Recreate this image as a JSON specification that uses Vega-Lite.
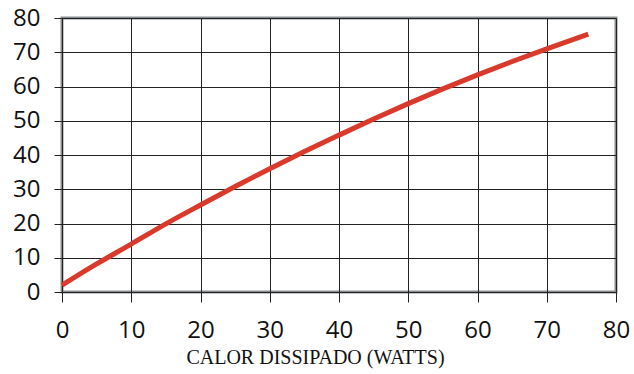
{
  "$schema": "https://vega.github.io/schema/vega-lite/v6.json",
  "width": 554,
  "height": 274,
  "autosize": {"type": "none"},
  "padding": {"left": 62, "top": 18, "right": 18, "bottom": 82},
  "background": "white",
  "data": {"values": [
    {"calor": 0, "valor": 2},
    {"calor": 5, "valor": 8.2},
    {"calor": 10, "valor": 14},
    {"calor": 15, "valor": 19.9},
    {"calor": 20, "valor": 25.4},
    {"calor": 25, "valor": 30.8},
    {"calor": 30, "valor": 36},
    {"calor": 35, "valor": 41},
    {"calor": 40, "valor": 45.8},
    {"calor": 45, "valor": 50.5},
    {"calor": 50, "valor": 55},
    {"calor": 55, "valor": 59.3},
    {"calor": 60, "valor": 63.4},
    {"calor": 65, "valor": 67.3},
    {"calor": 70, "valor": 71},
    {"calor": 76, "valor": 75.3}
  ]},
  "config": {
    "view": {"stroke": "#8a8d90", "strokeWidth": 3},
    "axis": {"domain": false, "grid": true, "gridColor": "#222222", "gridWidth": 1, "tickColor": "#222222", "labelFont": "Open Sans", "labelFontSize": 24, "labelColor": "#111111", "labelOverlap": false, "labelBound": false, "labelFlush": false}
  },
  "mark": {"type": "line", "color": "#d93a2b", "strokeWidth": 5, "interpolate": "monotone"},
  "encoding": {
    "x": {"field": "calor", "type": "quantitative", "scale": {"domain": [0, 80], "nice": false},
      "axis": {"values": [0,10,20,30,40,50,60,70,80], "tickSize": 10, "labelPadding": 16, "title": "CALOR DISSIPADO (WATTS)", "titleFont": "Liberation Serif", "titleFontSize": 20, "titleFontWeight": "normal", "titleColor": "#111111", "titlePadding": 5, "titleX": 253, "titleAlign": "center"}},
    "y": {"field": "valor", "type": "quantitative", "scale": {"domain": [0, 80], "nice": false},
      "axis": {"values": [0,10,20,30,40,50,60,70,80], "tickSize": 8, "labelPadding": 14, "title": null}}
  }
}
